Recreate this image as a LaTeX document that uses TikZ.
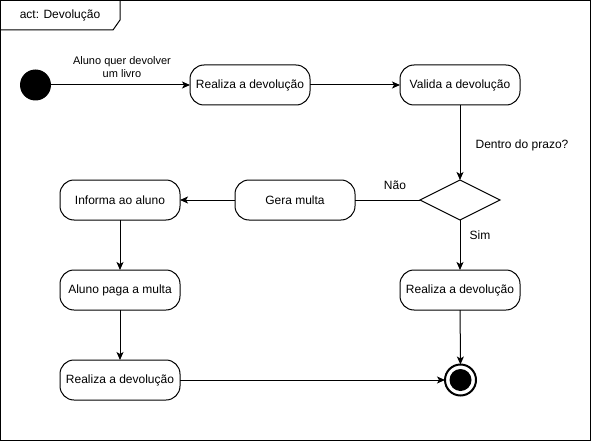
\documentclass[tikz,border=0pt]{standalone}
\usepackage{fontspec}
\setmainfont{Liberation Sans}
\usetikzlibrary{arrows.meta,shapes.geometric}
\begin{document}
\begin{tikzpicture}[x=1pt,y=-1pt,
  every node/.style={inner sep=0pt,outer sep=0pt},
  action/.style={draw,line width=1pt,rounded corners=14pt,minimum width=120pt,minimum height=40pt,
    font=\fontsize{12}{14}\selectfont},
  decision/.style={draw,line width=1pt,diamond,aspect=2,minimum width=80pt,minimum height=40pt},
  flow/.style={line width=1pt,-{Stealth[length=8pt,width=7pt,inset=2pt]}},
  plain/.style={line width=1pt},
  lbl/.style={font=\fontsize{12}{14}\selectfont},
  lblsmall/.style={font=\fontsize{11}{13}\selectfont,align=center}]
\useasboundingbox (0,0) rectangle (591,441);
% frame and title tab
\draw[line width=1pt] (0.5,0.5) rectangle (590.5,440.5);
\draw[line width=1pt] (0.5,30) -- (113,30) -- (120,20) -- (120,0.5);
\node[lbl] (title) at (60,15) {act: Devolução};

% nodes
\node[circle,fill=black,minimum size=31pt] (start) at (35.5,85) {};
\node[action] (realiza1) at (250,85) {Realiza a devolução};
\node[action] (valida) at (460,85) {Valida a devolução};
\node[decision] (prazo) at (460,200) {};
\node[action] (gera) at (295,200) {Gera multa};
\node[action] (informa) at (120,200) {Informa ao aluno};
\node[action] (paga) at (120,290) {Aluno paga a multa};
\node[action] (realiza3) at (120,380) {Realiza a devolução};
\node[action] (realiza2) at (460,290) {Realiza a devolução};
\node[circle,draw,line width=2pt,fill=white,minimum size=31pt] (final) at (460.5,380) {};
\node[circle,fill=black,minimum size=22pt] (finaldot) at (460.5,380) {};

% connectors
\draw[flow] (start) -- (realiza1);
\node[lblsmall] (lstart) at (122,67) {Aluno quer devolver\\um livro};
\draw[flow] (realiza1) -- (valida);
\draw[flow] (valida) -- (prazo.north);
\node[lbl] (lprazo) at (522,145) {Dentro do prazo?};
\draw[plain] (prazo.west) -- (gera.east);
\node[lbl] (lnao) at (395,185) {Não};
\draw[flow] (prazo.south) -- (realiza2);
\node[lbl] (lsim) at (480,235) {Sim};
\draw[flow] (gera) -- (informa);
\draw[flow] (informa) -- (paga);
\draw[flow] (paga) -- (realiza3);
\draw[flow] (realiza2) -- (final);
\draw[flow] (realiza3) -- (final);
\end{tikzpicture}
\end{document}
